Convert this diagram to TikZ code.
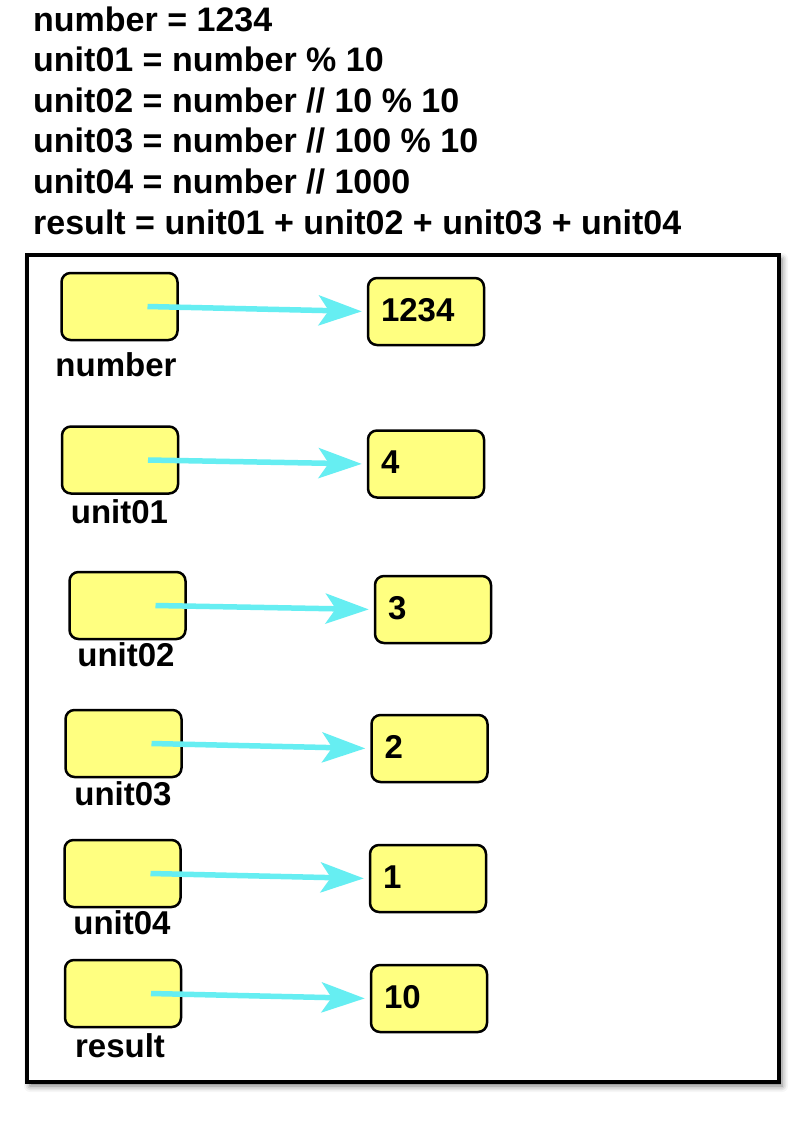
\documentclass[tikz,border=0pt]{standalone}
\usepackage{fontspec}
\setmainfont{Liberation Sans}
\usetikzlibrary{arrows.meta,shadows.blur}

\definecolor{boxyellow}{RGB}{255,255,128}
\definecolor{ptrcyan}{RGB}{102,238,242}

\begin{document}
\begin{tikzpicture}[x=1pt, y=-1pt,
  varbox/.style={rectangle, draw, line width=2.5pt, rounded corners=9pt, fill=boxyellow,
                 minimum width=116pt, minimum height=67pt, inner sep=0pt},
  valbox/.style={rectangle, draw, line width=2.5pt, rounded corners=9pt, fill=boxyellow,
                 inner xsep=13pt, inner ysep=0pt, text width=90pt, align=left,
                 text height=43pt, text depth=24pt, font=\bfseries\fontsize{33}{40}\selectfont},
  varname/.style={anchor=base, inner sep=0pt, font=\bfseries\fontsize{33}{37}\selectfont},
  pointer/.style={line width=5.5pt, draw=ptrcyan, shorten >=5pt,
                  -{Stealth[length=43pt, width=30pt, inset=10pt]}}]

  \useasboundingbox (0,0) rectangle (811,1122);

  % Code
  \draw (33,234) node(code) [anchor=base west, align=left, inner sep=0pt,
        font=\bfseries\fontsize{34}{40.6}\selectfont]
        {number = 1234\\
         unit01 = number \% 10\\
         unit02 = number // 10 \% 10\\
         unit03 = number // 100 \% 10\\
         unit04 = number // 1000\\
         result = unit01 + unit02 + unit03 + unit04};

  % Frame
  \draw[line width=4pt, fill=white,
        blur shadow={shadow xshift=3pt, shadow yshift=-4pt, shadow blur radius=6pt, shadow opacity=55}]
        (27,255) rectangle (779,1082);

  % Variables
  \draw (119.5,306.5) node(number) [varbox] {};
  \draw (120.0,460.0) node(unit01) [varbox] {};
  \draw (127.5,605.5) node(unit02) [varbox] {};
  \draw (123.5,743.5) node(unit03) [varbox] {};
  \draw (122.5,873.5) node(unit04) [varbox] {};
  \draw (123.0,993.5) node(result) [varbox] {};

  % Names
  \draw (116.0,376)  node(numbername) [varname] {number};
  \draw (119.5,523)  node(unit01name) [varname] {unit01};
  \draw (126.0,666)  node(unit02name) [varname] {unit02};
  \draw (123.0,805)  node(unit03name) [varname] {unit03};
  \draw (122.0,934)  node(unit04name) [varname] {unit04};
  \draw (120.0,1057) node(resultname) [varname] {result};

  % Values
  \draw (426.0,311.5) node(numberval) [valbox] {1234};
  \draw (426.0,464.0) node(unit01val) [valbox] {4};
  \draw (433.0,609.5) node(unit02val) [valbox] {3};
  \draw (429.5,748.5) node(unit03val) [valbox] {2};
  \draw (428.0,878.5) node(unit04val) [valbox] {1};
  \draw (429.0,998.5) node(resultval) [valbox] {10};

  % Pointers
  \draw[pointer] ([xshift=28pt]number.center) -- (numberval.west);
  \draw[pointer] ([xshift=28pt]unit01.center) -- (unit01val.west);
  \draw[pointer] ([xshift=28pt]unit02.center) -- (unit02val.west);
  \draw[pointer] ([xshift=28pt]unit03.center) -- (unit03val.west);
  \draw[pointer] ([xshift=28pt]unit04.center) -- (unit04val.west);
  \draw[pointer] ([xshift=28pt]result.center) -- (resultval.west);
\end{tikzpicture}
\end{document}
